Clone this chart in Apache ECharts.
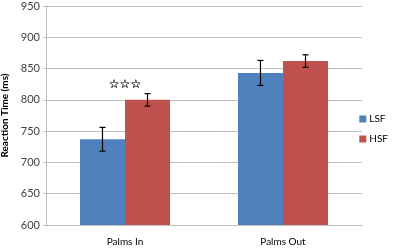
<!DOCTYPE html>
<html>
<head>
<meta charset="utf-8">
<script src="https://cdn.jsdelivr.net/npm/echarts@6/dist/echarts.min.js"></script>
<style>
  html, body { margin: 0; padding: 0; background: #fff; }
  #chart { width: 397px; height: 248px; }
</style>
</head>
<body>
<div id="chart"></div>
<script>
var categories = ['Palms In', 'Palms Out'];
var lsfValues = [737, 843];
var hsfValues = [800, 862];
var lsfErrors = [19, 20];
var hsfErrors = [10, 10];
var starLabels = ['☆☆☆', ''];
var starValues = [824, null];
var yTicks = [600, 650, 700, 750, 800, 850, 900, 950];

var chart = echarts.init(document.getElementById('chart'));

var gapPct = 0.43;

function errorItem(side, values, errors) {
    return function (params, api) {
        var i = api.value(0);
        var mid = api.coord([i, values[i]]);
        var band = api.size([1, 0])[0];
        var barW = band * (1 - gapPct) / 2;
        var x = mid[0] + side * barW / 2;
        var hi = api.coord([i, values[i] + errors[i]])[1];
        var lo = api.coord([i, values[i] - errors[i]])[1];
        var style = { stroke: '#000', lineWidth: 1.2 };
        return {
            type: 'group',
            children: [
                { type: 'line', shape: { x1: x, y1: hi, x2: x, y2: lo }, style: style },
                { type: 'line', shape: { x1: x - 3, y1: hi, x2: x + 3, y2: hi }, style: style },
                { type: 'line', shape: { x1: x - 3, y1: lo, x2: x + 3, y2: lo }, style: style }
            ]
        };
    };
}

var option = {
    animation: false,
    textStyle: { fontFamily: 'Lato' },
    grid: { left: 46, right: 35, top: 6, bottom: 23, outerBoundsMode: 'none', containLabel: false },
    legend: {
        orient: 'vertical',
        right: 4,
        top: 109,
        itemWidth: 7,
        itemHeight: 7,
        itemGap: 10,
        icon: 'rect',
        data: ['LSF', 'HSF'],
        textStyle: { fontSize: 10, color: '#000', padding: [0, 0, 0, -2] }
    },
    xAxis: {
        type: 'category',
        data: categories,
        axisLine: { lineStyle: { color: '#bfbfbf' } },
        axisTick: { length: 4, lineStyle: { color: '#bfbfbf' } },
        axisLabel: { fontSize: 10, color: '#000', margin: 12 }
    },
    yAxis: {
        type: 'value',
        min: yTicks[0],
        max: yTicks[yTicks.length - 1],
        interval: 50,
        name: 'Reaction Time (ms)',
        nameLocation: 'middle',
        nameGap: 31,
        nameRotate: 90,
        nameTextStyle: { fontSize: 10, fontWeight: 'bold', color: '#000' },
        axisLine: { show: true, lineStyle: { color: '#bfbfbf' } },
        axisTick: { show: true, length: 3, lineStyle: { color: '#bfbfbf' } },
        axisLabel: { fontSize: 11, color: '#404040', margin: 6 },
        splitLine: { lineStyle: { color: '#bfbfbf' } }
    },
    series: [
        {
            name: 'LSF', type: 'bar', data: lsfValues,
            barGap: '0%', barCategoryGap: (gapPct * 100) + '%',
            itemStyle: { color: '#4f81bd' }
        },
        {
            name: 'HSF', type: 'bar', data: hsfValues,
            itemStyle: { color: '#c0504d' }
        },
        {
            type: 'custom', renderItem: errorItem(-1, lsfValues, lsfErrors),
            data: categories.map(function (c, i) { return [i]; }), z: 10
        },
        {
            type: 'custom', renderItem: errorItem(1, hsfValues, hsfErrors),
            data: categories.map(function (c, i) { return [i]; }), z: 10
        },
        {
            type: 'scatter', symbolSize: 0, silent: true,
            data: starValues.map(function (v, i) { return v == null ? null : [i, v]; }),
            label: {
                show: true, position: 'inside', fontSize: 12, color: '#000',
                fontFamily: 'DejaVu Sans',
                textBorderColor: '#000', textBorderWidth: 0.3,
                formatter: function (p) { return starLabels[p.dataIndex]; }
            }
        }
    ]
};

chart.setOption(option);
</script>
</body>
</html>
